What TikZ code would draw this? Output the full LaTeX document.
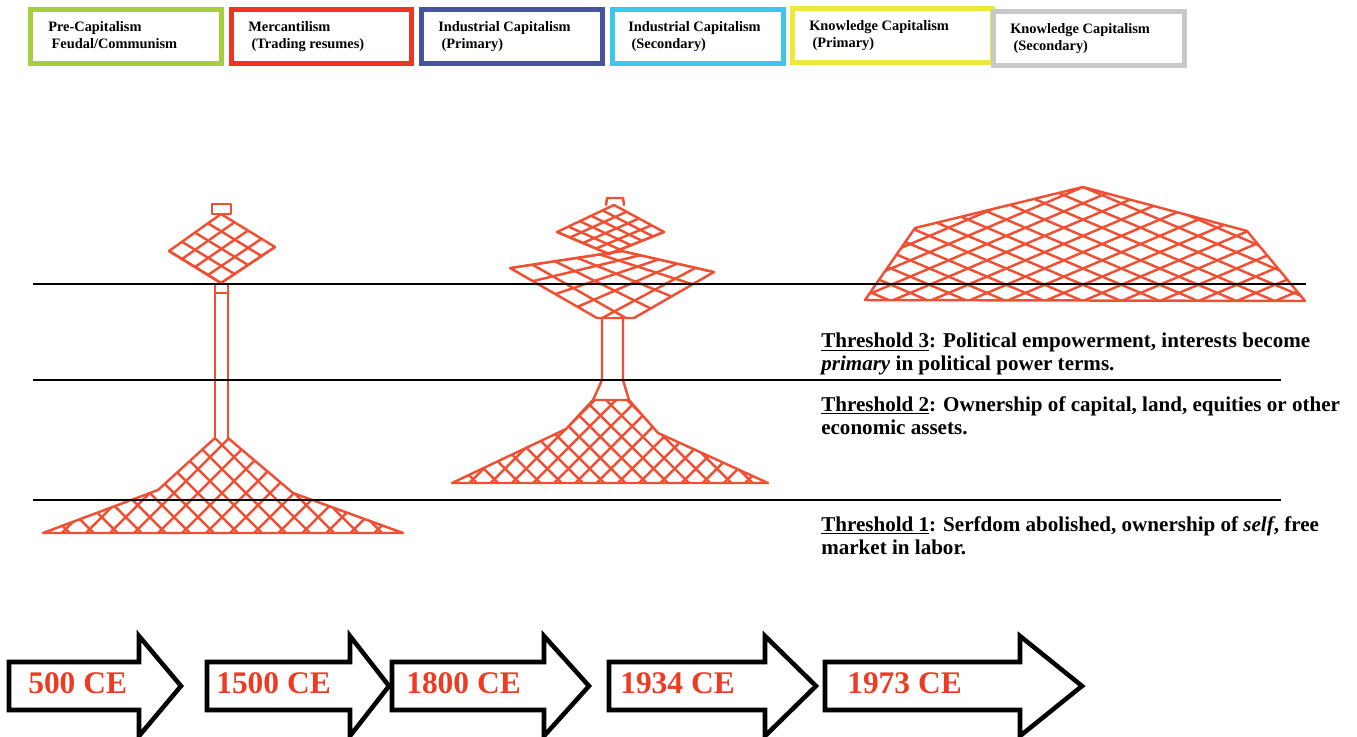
\documentclass[tikz,border=0pt]{standalone}
\usepackage{fontspec}
\setmainfont{Liberation Serif}
\usetikzlibrary{calc}
\definecolor{meshred}{RGB}{239,80,52}
\definecolor{yearred}{RGB}{237,59,36}
\definecolor{lgreen}{RGB}{166,206,57}
\definecolor{lred}{RGB}{238,53,36}
\definecolor{lblue}{RGB}{72,82,163}
\definecolor{lcyan}{RGB}{60,200,236}
\definecolor{lyellow}{RGB}{237,233,59}
\definecolor{lgray}{RGB}{200,200,200}

% quadrilateral mesh: T R B L, divisions n (along T-R) and m (along T-L)
\newcommand\quadmesh[6]{%
  \draw[mesh] (#1)--(#2)--(#3)--(#4)--cycle;
  \foreach \i in {1,...,#5}{\draw[mesh] ($(#1)!\i/#5!(#2)$) -- ($(#4)!\i/#5!(#3)$);}
  \foreach \j in {1,...,#6}{\draw[mesh] ($(#1)!\j/#6!(#4)$) -- ($(#2)!\j/#6!(#3)$);}
}
% family of parallel lines: cx cy angle spacing kmin kmax
\newcommand\hatchfam[6]{%
  \foreach \k in {#5,...,#6}{%
    \draw[mesh] ({#1-(\k)*#4*sin(#3)-500*cos(#3)},{#2+(\k)*#4*cos(#3)-500*sin(#3)})
             -- ({#1-(\k)*#4*sin(#3)+500*cos(#3)},{#2+(\k)*#4*cos(#3)+500*sin(#3)});
  }}

\begin{document}
\begin{tikzpicture}[x=0.75pt,y=-0.75pt,
  mesh/.style={draw=meshred,line width=1.85pt,line join=round,line cap=round},
  legbox/.style={draw=#1,line width=3.75pt,minimum height={54*0.75pt},inner sep=0pt},
  legtext/.style={anchor=north west,align=left,inner sep=0pt,
     font=\bfseries\fontsize{10.8}{12.75}\selectfont},
  thtext/.style={anchor=north west,align=left,inner sep=0pt,
     font=\bfseries\fontsize{15.8}{17.3}\selectfont},
  thline/.style={draw=black,line width=1.4pt},
  yarrow/.style={draw=black,line width=3.4pt,fill=white,line join=miter},
  year/.style={anchor=base west,inner sep=0pt,text=yearred,
     font=\bfseries\fontsize{23.6}{28}\selectfont}]
\useasboundingbox (0,0) rectangle (1357,736);

% ---------------- legend ----------------
\node[legbox=lgreen, minimum width={191*0.75pt}] (box1) at (126,36.5) {};
\node[legbox=lred,   minimum width={180*0.75pt}] (box2) at (321.5,36.5) {};
\node[legbox=lblue,  minimum width={181*0.75pt}] (box3) at (512,36.5) {};
\node[legbox=lcyan,  minimum width={171*0.75pt}] (box4) at (698,36.5) {};
\node[legbox=lyellow,minimum width={200*0.75pt}] (box5) at (892.5,35.5) {};
\node[legbox=lgray,  minimum width={191*0.75pt}] (box6) at (1089,38.5) {};

\node[legtext] (lab1) at (48,21.5)  {Pre-Capitalism\\\hspace*{2.5pt}Feudal/Communism};
\node[legtext] (lab2) at (248,21.5) {Mercantilism\\\hspace*{2.5pt}(Trading resumes)};
\node[legtext] (lab3) at (438,21.5) {Industrial Capitalism\\\hspace*{2.5pt}(Primary)};
\node[legtext] (lab4) at (628,21.5) {Industrial Capitalism\\\hspace*{2.5pt}(Secondary)};
\node[legtext] (lab5) at (809,20.5) {Knowledge Capitalism\\\hspace*{2.5pt}(Primary)};
\node[legtext] (lab6) at (1010,23.5){Knowledge Capitalism\\\hspace*{2.5pt}(Secondary)};

% ---------------- shape 1 (pre-capitalism) ----------------
\draw[mesh] (212,204) rectangle (231,214);
\coordinate (aT) at (221,214); \coordinate (aR) at (275,247);
\coordinate (aB) at (221,283); \coordinate (aL) at (169,251);
\quadmesh{aT}{aR}{aB}{aL}{4}{4}
\draw[mesh] (215,285) -- (215,438);
\draw[mesh] (228,285) -- (228,438);
\draw[mesh] (215,293) -- (228,293);
\begin{scope}
  \clip (215,438)--(158,490)--(43,533)--(403,533)--(293,493)--(228,438)--cycle;
  \hatchfam{222}{445}{45}{17}{-18}{18}
  \hatchfam{222}{445}{135}{17}{-18}{18}
\end{scope}
\draw[mesh] (215,438)--(158,490)--(43,533)--(403,533)--(293,493)--(228,438);

% ---------------- shape 2 (industrial) ----------------
\draw[mesh] (606,205)--(607,198)--(623,198)--(624,205);
\coordinate (bT) at (614,205); \coordinate (bR) at (664,232);
\coordinate (bB) at (609,254); \coordinate (bL) at (557,232);
\quadmesh{bT}{bR}{bB}{bL}{4}{5}
\begin{scope}
  \clip (510,268)--(622,251)--(714,272)--(634,318)--(597,318)--cycle;
  \coordinate (cT) at (622,251); \coordinate (cR) at (714,272);
  \coordinate (cB) at (615,336); \coordinate (cL) at (510,268);
  \quadmesh{cT}{cR}{cB}{cL}{5}{5}
\end{scope}
\draw[mesh] (510,268)--(622,251)--(714,272)--(634,318)--(597,318)--cycle;
\draw[mesh] (602,318)--(602,380)--(593,400);
\draw[mesh] (623,318)--(623,380)--(629,400);
\draw[mesh] (593,400)--(629,400);
\begin{scope}
  \clip (593,400)--(566,429)--(452,483)--(768,483)--(658,433)--(629,400)--cycle;
  \hatchfam{611}{405}{45}{15}{-18}{18}
  \hatchfam{611}{405}{135}{15}{-18}{18}
\end{scope}
\draw[mesh] (593,400)--(566,429)--(452,483)--(768,483)--(658,433)--(629,400)--cycle;

% ---------------- shape 3 (knowledge) ----------------
\begin{scope}
  \clip (1083,187)--(1247,231)--(1305,301)--(865,300)--(915,228)--cycle;
  \hatchfam{1083}{187}{23}{15}{-3}{14}
  \hatchfam{1083}{187}{-23}{15}{-3}{14}
\end{scope}
\draw[mesh] (1083,187)--(1247,231)--(1305,301)--(865,300)--(915,228)--cycle;

% ---------------- threshold lines ----------------
\coordinate (t3a) at (33,284);  \coordinate (t3b) at (1306,284);
\coordinate (t2a) at (33,380);  \coordinate (t2b) at (1281,380);
\coordinate (t1a) at (33,500);  \coordinate (t1b) at (1281,500);
\draw[thline] (t3a) -- (t3b);
\draw[thline] (t2a) -- (t2b);
\draw[thline] (t1a) -- (t1b);

\node[thtext] (th3) at (821,333) {\underline{Threshold 3}: Political empowerment, interests become\\\textit{primary} in political power terms.};
\node[thtext] (th2) at (821,396) {\underline{Threshold 2}: Ownership of capital, land, equities or other\\economic assets.};
\node[thtext] (th1) at (821,516) {\underline{Threshold 1}: Serfdom abolished, ownership of \textit{self}, free\\market in labor.};

% ---------------- timeline arrows ----------------
\draw[yarrow] (9,662) -- (139,662) -- (139,636) -- (181,686) -- (139,736) -- (139,710) -- (9,710) -- cycle;
\draw[yarrow] (207,662) -- (350,662) -- (350,636) -- (389,686) -- (350,736) -- (350,710) -- (207,710) -- cycle;
\draw[yarrow] (392,662) -- (544,662) -- (544,636) -- (589,686) -- (544,736) -- (544,710) -- (392,710) -- cycle;
\draw[yarrow] (609,662) -- (765,662) -- (765,636) -- (816,686) -- (765,736) -- (765,710) -- (609,710) -- cycle;
\draw[yarrow] (825,662) -- (1020,662) -- (1020,636) -- (1082,686) -- (1020,736) -- (1020,710) -- (825,710) -- cycle;

\node[year] (y1) at (28,693)  {500 CE};
\node[year] (y2) at (216,693) {1500 CE};
\node[year] (y3) at (406,693) {1800 CE};
\node[year] (y4) at (620,693) {1934 CE};
\node[year] (y5) at (847,693) {1973 CE};
\end{tikzpicture}
\end{document}
